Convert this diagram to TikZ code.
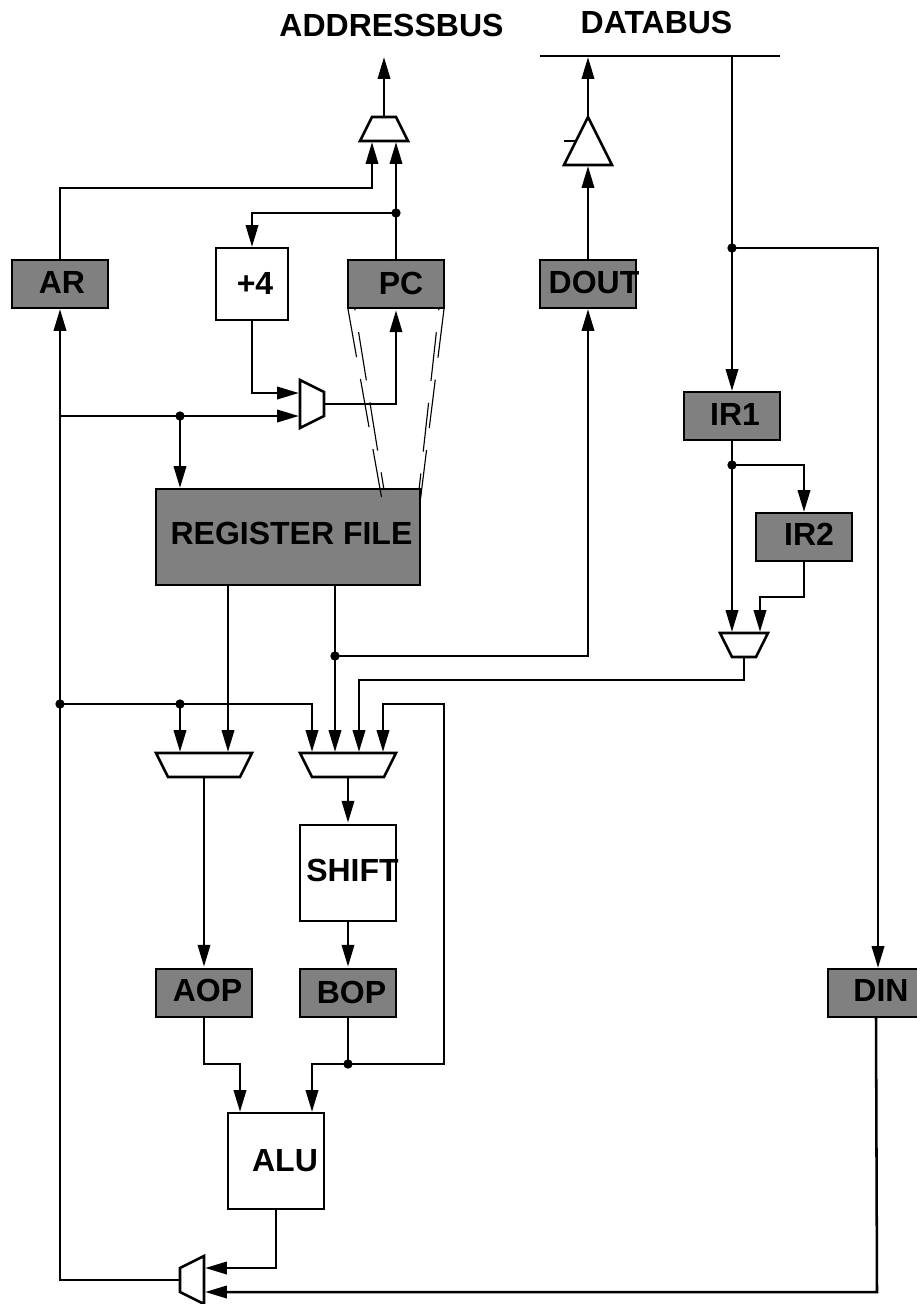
\documentclass[tikz,border=0pt]{standalone}
\usepackage{fontspec}
\setmainfont{Liberation Sans}
\usetikzlibrary{arrows.meta}
\definecolor{boxgray}{HTML}{808080}
\tikzset{
  wire/.style={line width=1.9pt,line join=miter},
  arr/.style={wire,-{Triangle[length=16.3pt,width=9.2pt]},shorten >=0.8pt},
  muxshape/.style={line width=1.9pt,line join=miter,fill=white,draw},
  thindash/.style={line width=0.85pt,dash pattern=on 36.7pt off 16.6pt},
  box/.style={draw,line width=1.9pt,inner sep=0pt,minimum width=72pt,minimum height=36pt},
  graybox/.style={box,fill=boxgray},
  whitebox/.style={box,fill=white},
  txt/.style={font=\fontsize{24}{28}\selectfont\bfseries,inner sep=0pt,text=black},
  dot/.style={circle,fill=black,inner sep=0pt,minimum size=7pt},
}
\begin{document}
\begin{tikzpicture}[x=0.75pt,y=-0.75pt]
\useasboundingbox (0,0) rectangle (917,1304);
\fill[white] (0,0) rectangle (917,1304);

% boxes
\node[graybox] (ar) at (60,284) {};
\node[whitebox,minimum width=54pt,minimum height=54pt] (plusfour) at (252,284) {};
\node[graybox] (pc) at (396,284) {};
\node[graybox] (dout) at (588,284) {};
\node[graybox] (irone) at (732,416) {};
\node[graybox] (irtwo) at (804,537) {};
\node[graybox,minimum width=198pt,minimum height=72pt] (rf) at (288,537) {};
\node[whitebox,minimum height=72pt] (shift) at (348,873) {};
\node[graybox] (aop) at (204,993) {};
\node[graybox] (bop) at (348,993) {};
\node[graybox] (din) at (876,993) {};
\node[whitebox,minimum height=72pt] (alu) at (276,1161) {};

% thin dashed fans
\coordinate (fanA1) at (348,309); \coordinate (fanA2) at (382,500);
\coordinate (fanB1) at (354.7,308); \coordinate (fanB2) at (384,490);
\coordinate (fanC1) at (444,309); \coordinate (fanC2) at (420,503);
\coordinate (fanD1) at (439,308); \coordinate (fanD2) at (419,490);
\draw[thindash] (fanA1) -- (fanA2);
\draw[thindash,dash phase=35pt] (fanB1) -- (fanB2);
\draw[thindash] (fanC1) -- (fanC2);
\draw[thindash,dash phase=35pt] (fanD1) -- (fanD2);

% box texts
\node[txt] (tar) at (62,282) {AR};
\node[txt] (tplus) at (255,283) {+4};
\node[txt] (tpc) at (401,283) {PC};
\node[txt] (tdout) at (594,282) {DOUT};
\node[txt] (tirone) at (735,414) {IR1};
\node[txt] (tirtwo) at (809,534) {IR2};
\node[txt] (trf) at (291.5,533) {REGISTER FILE};
\node[txt] (tshift) at (352.5,870) {SHIFT};
\node[txt] (taop) at (207.5,990) {AOP};
\node[txt] (tbop) at (351.5,992) {BOP};
\node[txt] (tdin) at (881,990) {DIN};
\node[txt] (talu) at (285,1161) {ALU};
\node[txt] (taddr) at (391.5,25) {ADDRESSBUS};
\node[txt] (tdata) at (656.5,22) {DATABUS};

% data bus
\coordinate (busL) at (540,56); \coordinate (busR) at (780,56);
\draw[wire] (busL) -- (busR);

% port coordinates
\coordinate (addrOut) at (384,56);
\coordinate (mtOut) at (384,117); \coordinate (mtA) at (372,141); \coordinate (mtB) at (396,141);
\coordinate (mmA) at (300,393); \coordinate (mmB) at (300,416); \coordinate (mmOut) at (324,404);
\coordinate (mirA) at (732,633); \coordinate (mirB) at (760,633); \coordinate (mirOut) at (744,657);
\coordinate (maA) at (180,753); \coordinate (maB) at (228,753); \coordinate (maOut) at (204,777);
\coordinate (mbA) at (312,753); \coordinate (mbB) at (335,753); \coordinate (mbC) at (359,753); \coordinate (mbD) at (383,753); \coordinate (mbOut) at (348,777);
\coordinate (mfA) at (204,1268); \coordinate (mfB) at (204,1292); \coordinate (mfOut) at (180,1280);
\coordinate (triTop) at (588,117); \coordinate (triBot) at (588,165);
\coordinate (dataIn) at (588,56);
\coordinate (tickL) at (564,141); \coordinate (tickR) at (577,141);
\coordinate (rfA) at (228,585); \coordinate (rfB) at (335,585);
\coordinate (aluIn1) at (240,1113); \coordinate (aluIn2) at (312,1113);
\coordinate (aluOut) at (276,1209);
\coordinate (plusIn) at (252,248); \coordinate (plusOut) at (252,320);
\coordinate (arBot) at (60,308); \coordinate (arTop) at (60,260);
\coordinate (rfIn) at (180,489);
\coordinate (irmain) at (732,392);
\coordinate (busTap) at (732,56);
\coordinate (dinBot) at (876,1017);
\coordinate (dinTop) at (878,969);
\coordinate (irtwoIn) at (804,513); \coordinate (irtwoOut) at (804,561);
\coordinate (doutB) at (588,308);

% junction dots
\node[dot] (dPC) at (396,213) {};
\node[dot] (dFeed) at (180,416) {};
\node[dot] (dLeft) at (60,704) {};
\node[dot] (dMuxA) at (180,704) {};
\node[dot] (dRF) at (335,656) {};
\node[dot] (dDin) at (732,248) {};
\node[dot] (dIR) at (732,465) {};
\node[dot] (dBop) at (348,1064) {};
\coordinate (feedL) at (60,416);

% connectors
\draw[arr] (mtOut) -- (addrOut);
\draw[arr] (arTop) -- (60,188) -| (mtA);
\draw[arr] (pc.north) -- (mtB);
\draw[arr] (dPC.center) -| (plusIn);
\draw[arr] (plusOut) |- (mmA);
\draw[arr] (mmOut) -| (pc.south);
\draw[arr] (feedL) -- (mmB);
\draw[arr] (dFeed.center) -- (rfIn);
\draw[arr] (mfOut) -| (arBot);
\draw[arr] (dLeft.center) -| (mbA);
\draw[arr] (dMuxA.center) -- (maA);
\draw[arr] (rfA) -- (maB);
\draw[arr] (rfB) -- (mbB);
\draw[arr] (dRF.center) -| (doutB);
\draw[arr] (mirOut) |- (359,680) -- (mbC);
\draw[arr] (dBop.center) -| (444,704) -| (mbD);
\draw[arr] (maOut) -- (aop.north);
\draw[arr] (mbOut) -- (shift.north);
\draw[arr] (shift.south) -- (bop.north);
\draw[arr] (aop.south) |- (240,1064) -- (aluIn1);
\draw[arr] (bop.south) |- (312,1064) -- (aluIn2);
\draw[arr] (aluOut) |- (mfA);
\draw[arr] (dinBot) -- (877,1292) -- (mfB);
\draw[arr] (dout.north) -- (triBot);
\draw[arr] (triTop) -- (dataIn);
\draw[arr] (busTap) -- (irmain);
\draw[arr] (dDin.center) -| (dinTop);
\draw[wire] (irone.south) -- (dIR.center);
\draw[arr] (dIR.center) -| (irtwoIn);
\draw[arr] (dIR.center) -- (mirA);
\draw[arr] (irtwoOut) |- (760,597) -- (mirB);

% muxes and tri-state buffer
\draw[muxshape] (360,141) -- (372,117) -- (396,117) -- (408,141) -- cycle;
\draw[muxshape] (300,380) -- (324,392) -- (324,416) -- (300,428) -- cycle;
\draw[muxshape] (720,633) -- (768,633) -- (756,657) -- (732,657) -- cycle;
\draw[muxshape] (156,753) -- (252,753) -- (240,777) -- (168,777) -- cycle;
\draw[muxshape] (300,753) -- (396,753) -- (384,777) -- (312,777) -- cycle;
\draw[muxshape] (204,1256) -- (180,1268) -- (180,1292) -- (204,1304) -- cycle;
\draw[muxshape] (588,117) -- (612,165) -- (564,165) -- cycle;
\draw[wire] (tickL) -- (tickR);
\end{tikzpicture}
\end{document}
